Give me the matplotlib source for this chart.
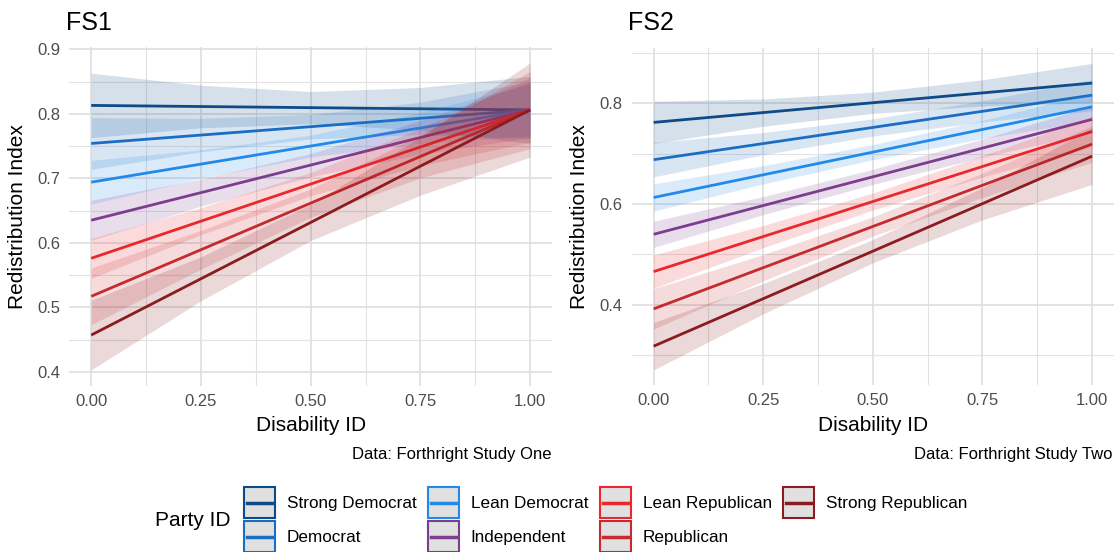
import matplotlib
matplotlib.use("Agg")
import matplotlib.pyplot as plt
from matplotlib.patches import Rectangle
from matplotlib.lines import Line2D
from matplotlib.ticker import MultipleLocator
import numpy as np

plt.rcParams['font.family'] = ['Liberation Sans', 'DejaVu Sans']

# Party groups and colours
parties = ['Strong Democrat', 'Democrat', 'Lean Democrat', 'Independent',
           'Lean Republican', 'Republican', 'Strong Republican']
colors = ['#0d4a87', '#1a6ec2', '#2389e8', '#7c3d8e',
          '#e8282c', '#c42a2e', '#8b1b1e']

# Points along Disability ID where the confidence bands were read
band_x = [0.0, 0.25, 0.5, 0.75, 1.0]

# FS1: fitted value at Disability ID = 0 and = 1
fs1_at0 = [0.813, 0.754, 0.694, 0.635, 0.576, 0.517, 0.457]
fs1_at1 = [0.806, 0.806, 0.806, 0.806, 0.806, 0.806, 0.806]
# FS1: half-width of the 95% band at band_x
fs1_hw = [
    [0.050, 0.033, 0.025, 0.033, 0.052],
    [0.040, 0.026, 0.019, 0.025, 0.044],
    [0.034, 0.022, 0.017, 0.024, 0.040],
    [0.031, 0.021, 0.018, 0.026, 0.043],
    [0.031, 0.021, 0.018, 0.029, 0.050],
    [0.044, 0.030, 0.022, 0.033, 0.060],
    [0.054, 0.034, 0.028, 0.045, 0.073],
]

# FS2
fs2_at0 = [0.762, 0.688, 0.613, 0.540, 0.466, 0.392, 0.318]
fs2_at1 = [0.840, 0.816, 0.793, 0.768, 0.744, 0.719, 0.695]
fs2_hw = [
    [0.042, 0.027, 0.021, 0.026, 0.039],
    [0.034, 0.022, 0.017, 0.021, 0.031],
    [0.027, 0.018, 0.015, 0.018, 0.027],
    [0.026, 0.018, 0.015, 0.018, 0.027],
    [0.033, 0.022, 0.017, 0.021, 0.030],
    [0.040, 0.026, 0.019, 0.024, 0.036],
    [0.047, 0.030, 0.023, 0.032, 0.056],
]

x_ticks = [0.0, 0.25, 0.5, 0.75, 1.0]
x_ticklabels = ['0.00', '0.25', '0.50', '0.75', '1.00']

W, H = 1117, 552
fig = plt.figure(figsize=(W / 100, H / 100), dpi=100)
fig.patch.set_facecolor('white')


def px(x, y):
    return x / W, 1 - y / H


def panel(rect, at0, at1, hws, ylim, ymajor, title, caption, left, right, title_x):
    x0, y0, x1, y1 = rect
    ax = fig.add_axes([x0 / W, 1 - y1 / H, (x1 - x0) / W, (y1 - y0) / H])
    bx = np.array(band_x)
    for i in range(len(parties)):
        fit = at0[i] + (at1[i] - at0[i]) * bx
        hw = np.array(hws[i])
        ax.fill_between(bx, fit - hw, fit + hw, color=colors[i], alpha=0.17,
                        linewidth=0, zorder=2 + 2 * i)
        ax.plot([0, 1], [at0[i], at1[i]], color=colors[i], lw=2.0,
                solid_capstyle='butt', zorder=3 + 2 * i)
    ax.set_xlim(-0.05, 1.05)
    ax.set_ylim(*ylim)
    ax.set_xticks(x_ticks)
    ax.set_xticklabels(x_ticklabels)
    ax.xaxis.set_minor_locator(MultipleLocator(0.125))
    ax.yaxis.set_major_locator(MultipleLocator(ymajor))
    ax.yaxis.set_minor_locator(MultipleLocator(ymajor / 2))
    ax.yaxis.set_major_formatter(matplotlib.ticker.FormatStrFormatter('%.1f'))
    ax.grid(which='major', color='#dedede', lw=1.2)
    ax.grid(which='minor', color='#e2e2e2', lw=0.8)
    ax.set_axisbelow(True)
    for s in ax.spines.values():
        s.set_visible(False)
    ax.tick_params(which='both', length=0, labelsize=12, labelcolor='#4d4d4d')
    ax.tick_params(axis='y', pad=6.5)
    ax.tick_params(axis='x', pad=6)

    cx = (x0 + x1) / 2
    fig.text(*px(17.7 + left, (y0 + y1) / 2), 'Redistribution Index', rotation=90,
             ha='center', va='center', fontsize=15)
    fig.text(*px(cx, 425.7), 'Disability ID', ha='center', va='center', fontsize=15)
    fig.text(*px(title_x, 22.7), title, ha='left', va='center', fontsize=18)
    fig.text(*px(right, 455), caption, ha='right', va='center', fontsize=12)
    return ax


panel((69.3, 46.7, 552, 386), fs1_at0, fs1_at1, fs1_hw, (0.378, 0.904), 0.1,
      'FS1', 'Data: Forthright Study One', 0, 552, 66.5)
panel((631.7, 48.3, 1114, 385), fs2_at0, fs2_at1, fs2_hw, (0.241, 0.909), 0.2,
      'FS2', 'Data: Forthright Study Two', 562, 1113, 628)


class KeyHandler:
    """Grey key box with a coloured outline and a centred line."""

    def legend_artist(self, legend, orig_handle, fontsize, handlebox):
        c = orig_handle.get_color()
        x0, y0 = -handlebox.xdescent, -handlebox.ydescent
        w, h = handlebox.width, handlebox.height
        tr = handlebox.get_transform()
        box = Rectangle((x0, y0), w, h, facecolor='#e0e0e0', edgecolor=c,
                        lw=1.5, transform=tr)
        ln = Line2D([x0 + 2, x0 + w - 2], [y0 + h / 2, y0 + h / 2], color=c,
                    lw=2.5, transform=tr)
        handlebox.add_artist(box)
        handlebox.add_artist(ln)
        return box


handles = [Line2D([], [], color=c) for c in colors]
fig.legend(handles, parties, loc='upper left', bbox_to_anchor=px(244, 487),
           ncol=4, frameon=False, borderpad=0, borderaxespad=0,
           handlelength=1.8, handleheight=2.45, labelspacing=0.15,
           handletextpad=0.7, columnspacing=0.68, fontsize=12.3,
           handler_map={Line2D: KeyHandler()})
fig.text(*px(155, 521), 'Party ID', ha='left', va='center', fontsize=15)

fig.savefig('out.png', dpi=100)
